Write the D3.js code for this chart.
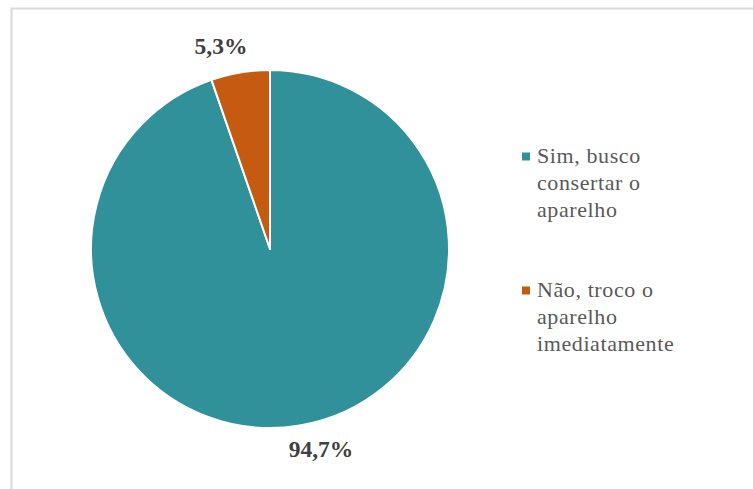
<!DOCTYPE html>
<html>
<head>
<meta charset="utf-8">
<script src="https://cdn.jsdelivr.net/npm/d3@7"></script>
<style>
  html, body { margin: 0; padding: 0; background: #fff; }
  svg { display: block; }
  .serif { font-family: "Liberation Serif", "Times New Roman", Tinos, "DejaVu Serif", serif; }
</style>
</head>
<body>
<svg id="chart" width="753" height="489"></svg>
<script>
// Survey answers and their shares (%)
const categories = ["Sim, busco consertar o aparelho", "Não, troco o aparelho imediatamente"];
const values = [94.7, 5.3];
const valueLabels = ["94,7%", "5,3%"];
// Legend text broken into lines as shown
const legendLines = [["Sim, busco", "consertar o", "aparelho"], ["Não, troco o", "aparelho", "imediatamente"]];
const colors = ["#31919a", "#c55a11"];

const svg = d3.select("#chart");

// Frame
svg.append("rect")
  .attr("x", 11.5).attr("y", 8.5)
  .attr("width", 760).attr("height", 500)
  .attr("fill", "none").attr("stroke", "#d9d9d9").attr("stroke-width", 2);

const cx = 270, cy = 249, r = 179;

const pie = d3.pie().sort(null).value(d => d)(values);
const arc = d3.arc().innerRadius(0).outerRadius(r);

const g = svg.append("g").attr("transform", `translate(${cx},${cy})`);
g.selectAll("path")
  .data(pie)
  .join("path")
  .attr("d", arc)
  .attr("fill", (d, i) => colors[i])
  .attr("stroke", "#fff")
  .attr("stroke-width", 2)
  .attr("stroke-linejoin", "round");

// Data labels outside the pie
const labelPos = [
  { dx: 51, dy: 208 },   // 94,7%
  { dx: -49, dy: -195 }  // 5,3%
];
g.selectAll("text.val")
  .data(pie)
  .join("text")
  .attr("class", "val serif")
  .attr("x", (d, i) => labelPos[i].dx)
  .attr("y", (d, i) => labelPos[i].dy)
  .attr("text-anchor", "middle")
  .attr("font-weight", "bold")
  .attr("font-size", 23.5)
  .attr("fill", "#404040")
  .text((d, i) => valueLabels[i]);

// Legend
const legend = svg.append("g");
const legendTop = [163, 297];
categories.forEach((c, i) => {
  const item = legend.append("g");
  item.append("rect")
    .attr("x", 522).attr("y", legendTop[i] - 10.5)
    .attr("width", 8).attr("height", 8)
    .attr("fill", colors[i]);
  const t = item.append("text")
    .attr("class", "serif")
    .attr("font-size", 22)
    .attr("letter-spacing", 0.6)
    .attr("fill", "#595959");
  legendLines[i].forEach((line, k) => {
    t.append("tspan")
      .attr("x", 537)
      .attr("y", legendTop[i] + k * 26.8)
      .text(line);
  });
});
</script>
</body>
</html>
